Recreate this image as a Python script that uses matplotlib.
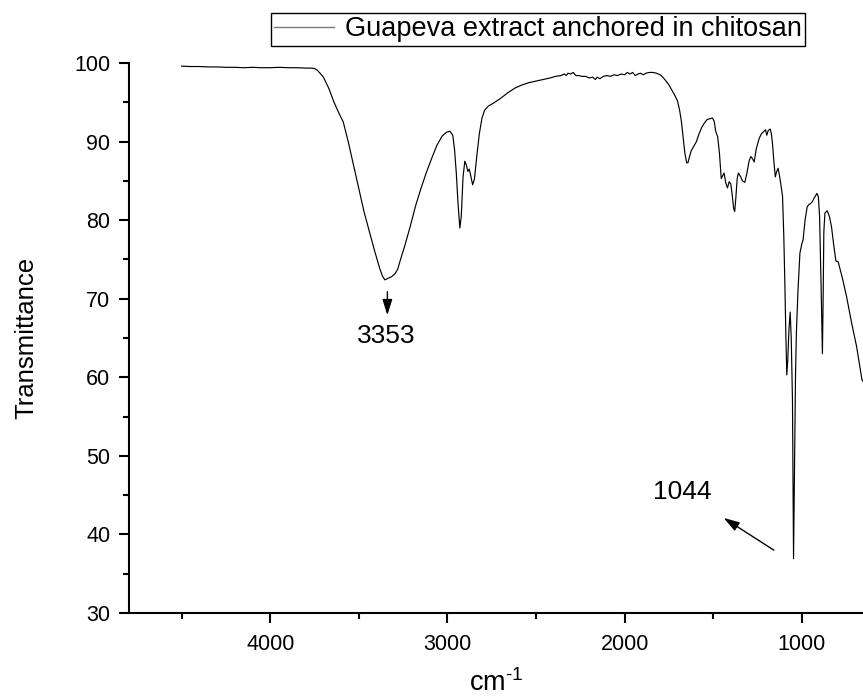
import matplotlib
matplotlib.use("Agg")
import matplotlib.pyplot as plt
from matplotlib.ticker import MultipleLocator
from matplotlib.lines import Line2D

plt.rcParams['font.family'] = ['Liberation Sans', 'DejaVu Sans']
plt.rcParams['mathtext.fontset'] = 'custom'
plt.rcParams['mathtext.rm'] = 'Liberation Sans'
plt.rcParams['mathtext.it'] = 'Liberation Sans:italic'

# ---- data ----
wavenumber = [
    4500, 4450, 4400, 4350, 4300, 4250, 4200, 4150, 4100, 4050, 4000, 3950, 3900, 3850,
    3800, 3770, 3750, 3735, 3715, 3700, 3670, 3640, 3610, 3588, 3560, 3530, 3500, 3470,
    3440, 3410, 3397, 3380, 3365, 3353, 3335, 3315, 3295, 3280, 3266, 3240, 3210, 3180,
    3150, 3120, 3090, 3060, 3030, 3005, 2985, 2970, 2960, 2950, 2940, 2930, 2922, 2912,
    2902, 2893, 2885, 2877, 2868, 2858, 2848, 2835, 2820, 2805, 2790, 2770, 2740, 2700,
    2660, 2620, 2580, 2540, 2500, 2460, 2420, 2390, 2360, 2340, 2330, 2320, 2305, 2290,
    2275, 2260, 2240, 2220, 2200, 2180, 2165, 2155, 2140, 2120, 2100, 2080, 2060, 2040,
    2020, 2000, 1985, 1970, 1955, 1940, 1925, 1910, 1895, 1880, 1860, 1840, 1820, 1800,
    1785, 1770, 1750, 1735, 1720, 1702, 1690, 1680, 1670, 1660, 1650, 1643, 1635, 1625,
    1610, 1595, 1580, 1565, 1552, 1535, 1520, 1505, 1495, 1486, 1475, 1465, 1455, 1448,
    1439, 1430, 1420, 1410, 1401, 1392, 1385, 1379, 1372, 1365, 1358, 1345, 1335, 1322,
    1310, 1298, 1288, 1278, 1269, 1258, 1241, 1228, 1214, 1205, 1198, 1190, 1179, 1172,
    1166, 1158, 1150, 1142, 1134, 1125, 1115, 1109, 1102, 1096, 1090, 1085, 1080, 1073,
    1066, 1060, 1053, 1047, 1041, 1036, 1031, 1022, 1011, 1000, 993, 982, 970, 960,
    951, 940, 931, 915, 907, 900, 890, 884, 880, 876, 870, 857, 845, 833,
    820, 808, 795, 770, 748, 720, 691, 676, 661, 650,
]
transmittance = [
    99.6, 99.55, 99.55, 99.5, 99.5, 99.45, 99.45, 99.4, 99.45, 99.4, 99.4, 99.45, 99.4, 99.4,
    99.35, 99.35, 99.3, 99.1, 98.6, 98.2, 96.8, 95.0, 93.5, 92.5, 90.0, 87.0, 84.0, 81.0,
    78.5, 76.0, 75.0, 73.7, 72.8, 72.4, 72.6, 72.8, 73.2, 73.8, 74.9, 76.8, 79.2, 81.8,
    84.0, 86.0, 87.8, 89.5, 90.7, 91.2, 91.3, 90.8, 89.0, 86.0, 82.0, 79.0, 80.5, 85.5,
    87.5, 87.0, 86.2, 86.5, 85.6, 84.5, 85.2, 88.0, 91.0, 93.0, 94.0, 94.5, 94.9, 95.5,
    96.2, 96.8, 97.2, 97.5, 97.7, 97.9, 98.1, 98.3, 98.4, 98.6, 98.4, 98.7, 98.6, 98.8,
    98.4, 98.4, 98.3, 98.3, 98.1, 98.2, 97.9, 98.2, 98.0, 98.3, 98.4, 98.3, 98.5, 98.4,
    98.6, 98.5, 98.8, 98.6, 98.8, 98.4, 98.6, 98.7, 98.5, 98.7, 98.8, 98.8, 98.7, 98.5,
    98.2, 97.8, 97.2, 96.6, 96.0, 95.2, 94.0, 92.6, 90.5, 88.5, 87.3, 87.3, 88.0, 88.8,
    89.4, 90.0, 91.0, 91.8, 92.3, 92.8, 92.9, 93.0, 92.6, 91.3, 90.6, 88.5, 85.3, 85.6,
    86.0, 84.8, 84.1, 84.9, 84.6, 83.0, 81.5, 81.1, 83.0, 85.3, 86.0, 85.5, 85.0, 84.8,
    86.0, 87.5, 88.1, 87.8, 87.4, 89.0, 90.4, 91.0, 91.3, 91.5, 90.8, 91.4, 91.6, 91.0,
    89.8, 87.5, 85.5, 86.2, 86.6, 85.5, 84.0, 83.0, 78.0, 72.0, 65.0, 60.3, 62.0, 66.0,
    68.3, 65.0, 57.1, 36.9, 50.0, 60.0, 65.6, 71.0, 75.8, 77.0, 77.5, 80.0, 81.7, 82.0,
    82.1, 82.4, 82.8, 83.4, 83.0, 80.5, 70.0, 63.0, 70.0, 78.5, 80.9, 81.2, 80.5, 79.2,
    76.8, 74.8, 74.7, 72.5, 70.3, 67.0, 63.9, 61.8, 59.7, 59.3,
]
series_label = "Guapeva extract anchored in chitosan"
peak_labels = ["3353", "1044"]
x_ticks = [4000, 3000, 2000, 1000]
y_ticks = [30, 40, 50, 60, 70, 80, 90, 100]

W, H = 863, 700
fig = plt.figure(figsize=(W / 100, H / 100), dpi=100)
ax = fig.add_axes([129 / W, (H - 613) / H, 1 - 129 / W, (613 - 63) / H])

ax.plot(wavenumber, transmittance, color='black', lw=0.85)

ax.set_xlim(4797, 655)
ax.set_ylim(30, 100)
ax.set_xticks(x_ticks)
ax.set_yticks(y_ticks)
ax.xaxis.set_minor_locator(MultipleLocator(500))
ax.yaxis.set_minor_locator(MultipleLocator(5))

for s in ['top', 'right']:
    ax.spines[s].set_visible(False)
for s in ['left', 'bottom']:
    ax.spines[s].set_linewidth(1.5)

ax.tick_params(axis='both', which='major', direction='out', length=7.5, width=1.5,
               labelsize=15.5)
ax.tick_params(axis='both', which='minor', direction='out', length=4.3, width=1.5)
ax.tick_params(axis='x', which='major', pad=7.5)
ax.tick_params(axis='y', which='major', pad=6)

ax.set_ylabel("Transmittance", fontsize=18.5)
ax.yaxis.set_label_coords(-0.1233, 0.5)
ax.set_xlabel("cm$^{\\text{-1}}$", fontsize=19.5)
ax.xaxis.set_label_coords(0.5, -0.103)

# annotations
arrow_kw = dict(arrowstyle='-|>,head_length=0.8,head_width=0.25', mutation_scale=12,
                lw=1.0, color='black', shrinkA=0, shrinkB=0)
ax.annotate('', xy=(3339, 67.9), xytext=(3339, 70.9), arrowprops=arrow_kw)
ax.text(3345, 65.25, peak_labels[0], fontsize=19, ha='center', va='center')
ax.annotate('', xy=(1441, 42.1), xytext=(1158, 38.0), arrowprops=arrow_kw)
ax.text(1675, 45.4, peak_labels[1], fontsize=19, ha='center', va='center')

handle = Line2D([], [], color='#7a7a7a', lw=1.0)
leg = fig.legend([handle], [series_label], loc='upper left',
                 bbox_to_anchor=(271 / W, 1 - 13 / H),
                 fontsize=19.5, frameon=True, fancybox=False, shadow=False,
                 borderpad=0.12, borderaxespad=0, handlelength=2.2, handletextpad=0.4,
                 framealpha=1)
leg.get_frame().set_edgecolor('black')
leg.get_frame().set_linewidth(1.0)

fig.savefig("out.png", dpi=100)
